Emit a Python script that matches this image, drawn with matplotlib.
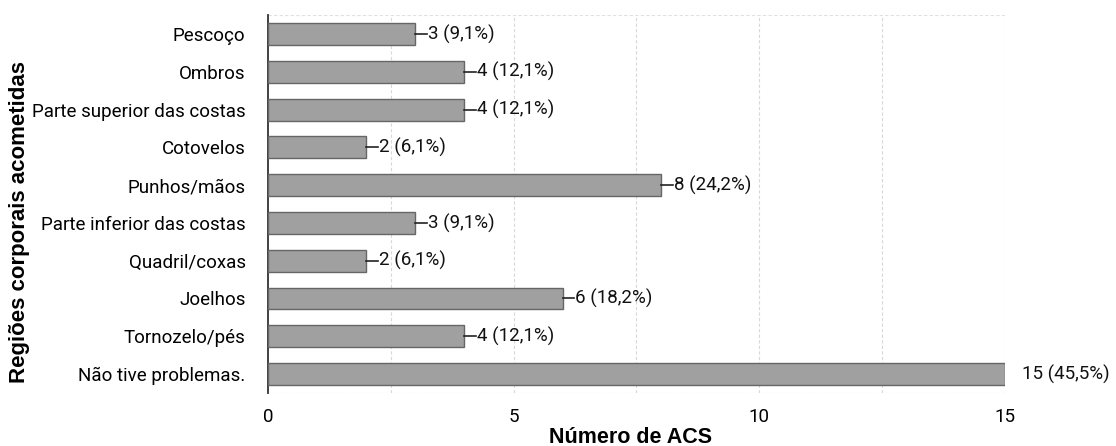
import matplotlib
matplotlib.use("Agg")
import matplotlib.pyplot as plt

categories = ["Pescoço", "Ombros", "Parte superior das costas", "Cotovelos",
              "Punhos/mãos", "Parte inferior das costas", "Quadril/coxas",
              "Joelhos", "Tornozelo/pés", "Não tive problemas."]
values = [3, 4, 4, 2, 8, 3, 2, 6, 4, 15]
labels = ["3 (9,1%)", "4 (12,1%)", "4 (12,1%)", "2 (6,1%)", "8 (24,2%)",
          "3 (9,1%)", "2 (6,1%)", "6 (18,2%)", "4 (12,1%)", "15 (45,5%)"]
xticks = [0, 5, 10, 15]

plt.rcParams['font.family'] = ['Roboto', 'DejaVu Sans']

fig = plt.figure(figsize=(11.16, 4.46), dpi=100)
ax = fig.add_axes([0.240, 0.119, 0.6605, 0.847])

y = list(range(len(categories)))
ax.barh(y, values, height=0.58, color="#a0a0a0", edgecolor="#666666", linewidth=1.0, zorder=3)

for i, (v, lab) in enumerate(zip(values, labels)):
    if v < 15:
        ax.plot([v, v + 0.24], [i, i], color="#222222", lw=1.2, zorder=4, clip_on=False)
        ax.text(v + 0.26, i, lab, va="center", ha="left", fontsize=13.5, color="#111111")
    else:
        ax.text(v + 0.35, i, lab, va="center", ha="left", fontsize=13.5, color="#111111")

ax.set_ylim(9.5, -0.5)
ax.set_xlim(0, 15)
ax.set_yticks(y)
ax.set_yticklabels(categories, fontsize=13.5)
ax.set_xticks(xticks)
ax.set_xticklabels([str(t) for t in xticks], fontsize=13.5)
ax.tick_params(axis="y", length=0, pad=16)
ax.tick_params(axis="x", length=0, pad=11)

for xv in [2.5, 5, 7.5, 10, 12.5, 15]:
    ax.axvline(xv, color="#d8d8d8", lw=0.8, ls=(0, (3, 2)), zorder=1)
ax.axhline(-0.5, color="#e0e0e0", lw=0.8, ls=(0, (3, 2)), zorder=1)
ax.axhline(9.5, color="#d0d0d0", lw=0.8, ls=(0, (3, 2)), zorder=1)

for s in ["top", "right", "bottom"]:
    ax.spines[s].set_visible(False)
ax.spines["left"].set_color("#333333")
ax.spines["left"].set_linewidth(1.3)

ax.set_xlabel("Número de ACS", fontsize=15.5, fontweight="bold", family=["Liberation Sans", "DejaVu Sans"])
ax.set_ylabel("Regiões corporais acometidas", fontsize=16, fontweight="bold", family=["Liberation Sans", "DejaVu Sans"])
ax.xaxis.set_label_coords((631 - 268) / 737, (393 - 427) / 378)
ax.yaxis.set_label_coords((30 - 268) / 737, (393 - 222) / 378)

fig.savefig("out.png", dpi=100)
